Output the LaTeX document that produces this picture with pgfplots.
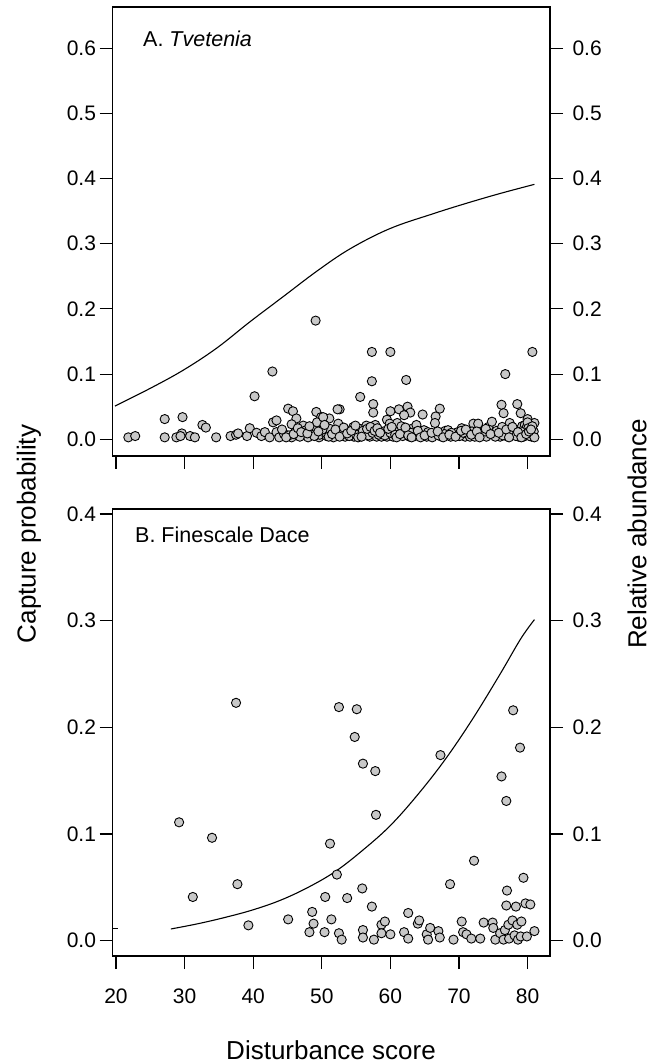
\documentclass[border=0pt]{standalone}
\usepackage{fontspec}
\setmainfont{Liberation Sans}
\usepackage{pgfplots}
\pgfplotsset{compat=1.18}
\definecolor{ptfill}{RGB}{200,200,200}
\pgfplotsset{
  common/.style={
    scale only axis, width=437.5pt,
    xmin=19.49, xmax=83.27,
    xtick={20,30,40,50,60,70,80},
    tick align=outside,
    major tick length=13pt,
    axis line style={line width=1.2pt},
    every tick/.style={black,line width=1.1pt},
    tick label style={font=\fontsize{21}{24}\selectfont},
    /pgf/number format/assume math mode=true,
    yticklabel style={/pgf/number format/fixed,/pgf/number format/fixed zerofill,/pgf/number format/precision=1},
  },
  pts/.style={only marks, mark=*, mark size=4.6pt, mark options={fill=ptfill, draw=black, line width=0.9pt}},
  crv/.style={black, line width=1.1pt, no marks, smooth, tension=0.6},
}
\begin{document}
\begin{tikzpicture}
% ---------------- Panel A ----------------
\begin{axis}[common, at={(112.5pt,-7pt)}, anchor=north west, height=449pt,
  ymin=-0.0256, ymax=0.663, ytick={0,0.1,0.2,0.3,0.4,0.5,0.6},
  ytick pos=left, xtick pos=left, xticklabels={}]
\addplot[pts] table {
x y
49.1 0.182
57.3 0.134
60.0 0.134
80.7 0.134
42.8 0.104
76.75 0.100
57.3 0.089
62.3 0.091
40.2 0.066
55.6 0.065
45.1 0.047
45.8 0.043
52.6 0.046
49.2 0.042
57.5 0.054
57.5 0.041
60.0 0.043
61.25 0.046
62.5 0.050
62.9 0.041
62.0 0.037
64.7 0.038
67.2 0.047
66.6 0.035
76.2 0.053
76.5 0.040
78.5 0.054
79.0 0.040
80.0 0.031
81.0 0.025
27.1 0.031
29.7 0.034
32.6 0.022
33.1 0.018
42.9 0.026
43.4 0.029
46.3 0.032
49.9 0.034
51.1 0.032
21.8 0.003
22.8 0.005
27.1 0.003
28.8 0.003
29.6 0.009
29.4 0.005
30.8 0.005
31.5 0.003
34.6 0.003
36.7 0.005
37.5 0.007
37.8 0.009
39.1 0.005
39.5 0.017
40.5 0.010
41.2 0.005
41.7 0.011
42.4 0.003
43.4 0.011
43.8 0.003
44.5 0.008
45.6 0.003
45.6 0.023
46.1 0.011
47.3 0.021
47.2 0.007
48.0 0.003
48.4 0.012
48.5 0.009
49.0 0.019
49.3 0.026
49.6 0.003
49.7 0.007
50.2 0.034
50.7 0.005
50.7 0.009
51.2 0.011
51.2 0.016
52.2 0.007
52.4 0.024
52.3 0.046
53.4 0.004
53.9 0.012
54.6 0.019
54.7 0.004
55.6 0.016
56.3 0.009
56.5 0.021
57.0 0.004
57.8 0.022
58.0 0.004
58.7 0.004
59.0 0.012
59.5 0.030
59.5 0.004
59.9 0.024
60.4 0.004
61.0 0.025
61.2 0.012
61.6 0.020
62.1 0.009
62.8 0.004
63.3 0.017
63.8 0.022
64.2 0.006
64.6 0.009
65.3 0.004
65.8 0.007
66.5 0.025
66.7 0.009
67.5 0.004
68.0 0.013
68.4 0.014
68.8 0.004
69.2 0.007
69.8 0.011
70.4 0.017
70.9 0.004
71.3 0.008
71.6 0.004
72.1 0.024
72.3 0.004
72.8 0.024
73.2 0.010
73.5 0.007
74.0 0.004
74.3 0.019
74.8 0.027
75.0 0.007
75.5 0.013
76.0 0.004
76.3 0.019
76.7 0.009
77.1 0.004
77.4 0.025
77.9 0.007
78.1 0.015
78.4 0.014
78.7 0.004
78.9 0.009
79.2 0.020
79.4 0.004
79.6 0.022
79.9 0.019
80.0 0.026
80.1 0.017
80.4 0.008
80.6 0.004
80.9 0.012
45.2 0.006
46.8 0.004
47.7 0.014
48.9 0.005
50.1 0.015
51.7 0.003
52.8 0.013
53.1 0.008
54.0 0.005
55.0 0.007
55.3 0.003
56.0 0.013
56.8 0.006
57.4 0.010
58.3 0.007
59.2 0.006
60.0 0.010
60.7 0.007
61.8 0.005
62.4 0.013
63.0 0.010
63.6 0.005
64.9 0.014
65.5 0.011
66.1 0.003
67.0 0.006
67.9 0.008
68.9 0.010
70.1 0.005
70.6 0.010
71.9 0.012
73.8 0.012
75.3 0.004
76.4 0.006
77.6 0.011
78.3 0.005
79.0 0.012
80.3 0.005
81.0 0.003
44.2 0.015
44.8 0.003
45.9 0.008
46.5 0.017
47.0 0.011
47.9 0.009
48.2 0.020
49.5 0.012
50.4 0.022
51.0 0.004
51.5 0.008
52.0 0.015
52.6 0.004
53.2 0.018
53.7 0.009
54.3 0.013
54.9 0.021
55.8 0.004
56.6 0.016
57.1 0.019
57.7 0.013
58.1 0.017
58.5 0.010
59.7 0.016
60.2 0.019
60.9 0.003
61.4 0.008
62.2 0.018
62.6 0.006
63.1 0.003
64.0 0.013
64.4 0.003
65.0 0.006
66.0 0.010
66.9 0.012
67.7 0.003
68.6 0.007
69.5 0.004
70.3 0.013
71.0 0.015
71.8 0.007
72.6 0.012
73.0 0.003
73.9 0.016
74.6 0.008
75.8 0.010
76.9 0.015
77.3 0.003
77.8 0.019
78.6 0.011
79.1 0.003
79.8 0.008
80.2 0.012
80.7 0.020
80.5 0.015
};
\addplot[crv] coordinates {
(19.85,0.051) (24.96,0.078) (29.8,0.106) (34.7,0.140) (39.5,0.180) (44.4,0.219)
(49.3,0.258) (54.1,0.292) (59.9,0.323) (66.25,0.346) (71.1,0.362) (76.0,0.377) (81.0,0.391)};
\end{axis}
\begin{axis}[common, at={(112.5pt,-7pt)}, anchor=north west, height=449pt,
  ymin=-0.0256, ymax=0.663, ytick={0,0.1,0.2,0.3,0.4,0.5,0.6},
  axis y line*=right, axis x line=none, tick align=outside,
  yticklabel style={xshift=6pt}]
\end{axis}
\node[anchor=base west, inner sep=0pt, font=\fontsize{21.5}{24}\selectfont] at (143pt,-47pt) {A. \textit{Tvetenia}};
% ---------------- Panel B ----------------
\begin{axis}[common, at={(112.5pt,-509pt)}, anchor=north west, height=447pt,
  ymin=-0.01434, ymax=0.4047, ytick={0,0.1,0.2,0.3,0.4},
  ytick pos=left, xtick pos=left,
  xticklabel style={yshift=-16pt}]
\addplot[pts] table {
x y
29.2 0.111
31.2 0.041
34.0 0.0965
37.5 0.223
37.7 0.053
39.3 0.0144
45.1 0.020
48.2 0.008
48.6 0.027
48.8 0.016
50.4 0.008
50.5 0.041
51.2 0.091
51.4 0.020
52.2 0.062
52.5 0.219
52.5 0.007
52.9 0.001
53.7 0.040
54.8 0.191
55.1 0.217
55.9 0.049
56.0 0.166
56.0 0.010
56.0 0.003
57.3 0.032
57.6 0.001
57.8 0.159
57.9 0.118
58.7 0.015
58.7 0.007
59.2 0.018
60.0 0.006
62.0 0.008
62.6 0.026
62.6 0.002
64.0 0.016
64.2 0.019
65.3 0.006
65.5 0.001
65.8 0.012
67.0 0.009
67.2 0.003
67.3 0.174
68.7 0.053
69.2 0.001
70.4 0.018
70.6 0.008
71.1 0.006
71.8 0.002
72.2 0.075
73.1 0.002
73.6 0.017
74.9 0.017
75.0 0.012
75.3 0.001
76.0 0.007
76.2 0.154
76.5 0.001
76.7 0.010
76.9 0.131
76.9 0.033
77.0 0.047
77.2 0.015
77.3 0.002
77.8 0.019
77.9 0.216
78.1 0.005
78.3 0.032
78.5 0.015
78.6 0.001
78.9 0.181
79.0 0.004
79.1 0.018
79.4 0.059
79.7 0.035
80.4 0.034
79.9 0.004
81.0 0.009
};
\addplot[crv] coordinates {
(28.0,0.011) (32,0.016) (36,0.022) (40,0.029) (44,0.038) (48,0.050) (52,0.065)
(56,0.085) (60,0.108) (64,0.137) (68,0.170) (72,0.208) (76,0.250) (79,0.283) (81,0.301)};
\addplot[black, line width=1pt, no marks] coordinates {(19.5,0.0115) (20.3,0.0115)};
\end{axis}
\begin{axis}[common, at={(112.5pt,-509pt)}, anchor=north west, height=447pt,
  ymin=-0.01434, ymax=0.4047, ytick={0,0.1,0.2,0.3,0.4},
  axis y line*=right, axis x line=none, tick align=outside,
  yticklabel style={xshift=6pt}]
\end{axis}
\node[anchor=base west, inner sep=0pt, font=\fontsize{21.5}{24}\selectfont] at (135pt,-542pt) {B. Finescale Dace};
% ---------------- Axis titles ----------------
\node[rotate=90, font=\fontsize{26}{30}\selectfont] at (29pt,-534pt) {Capture probability};
\node[rotate=90, font=\fontsize{26}{30}\selectfont] at (637pt,-534pt) {Relative abundance};
\node[font=\fontsize{26}{30}\selectfont] at (331pt,-1050pt) {Disturbance score};
\pgfresetboundingbox
\path[use as bounding box] (0pt,0pt) rectangle (653pt,-1064pt);
\end{tikzpicture}
\end{document}
